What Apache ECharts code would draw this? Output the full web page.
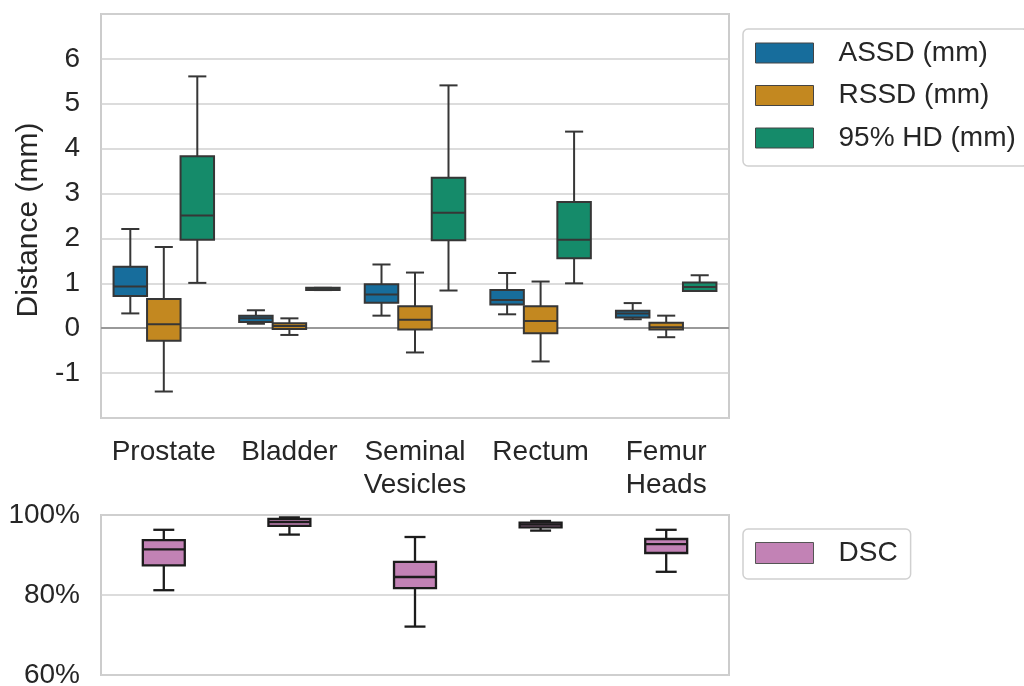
<!DOCTYPE html>
<html><head><meta charset="utf-8">
<script src="https://cdn.jsdelivr.net/npm/echarts@6/dist/echarts.min.js"></script>
<style>html,body{margin:0;padding:0;background:#fff}#chart{width:1024px;height:686px}</style>
</head><body><div id="chart"></div>
<script>
// Categories (x axis)
const categories = ['Prostate', 'Bladder', 'Seminal\nVesicles', 'Rectum', 'Femur\nHeads'];
// Each entry: [lower whisker, Q1, median, Q3, upper whisker]
const assd = [[0.33, 0.72, 0.93, 1.37, 2.21], [0.10, 0.14, 0.22, 0.28, 0.40], [0.28, 0.57, 0.75, 0.98, 1.42], [0.31, 0.53, 0.63, 0.85, 1.23], [0.20, 0.24, 0.33, 0.39, 0.56]];
const rssd = [[-1.41, -0.28, 0.09, 0.65, 1.81], [-0.15, -0.02, 0.05, 0.11, 0.22], [-0.54, -0.03, 0.19, 0.49, 1.24], [-0.74, -0.11, 0.16, 0.49, 1.04], [-0.20, -0.03, 0.02, 0.12, 0.28]];
const hd95 = [[1.01, 1.97, 2.51, 3.83, 5.61], [0.85, 0.85, 0.87, 0.90, 0.90], [0.84, 1.96, 2.57, 3.35, 5.41], [1.00, 1.56, 1.97, 2.81, 4.38], [0.83, 0.83, 0.92, 1.02, 1.18]];
const dsc = [[81.2, 87.4, 91.4, 93.7, 96.3], [95.1, 97.3, 98.2, 99.0, 99.4], [72.1, 81.7, 84.5, 88.3, 94.5], [96.1, 96.9, 97.6, 98.1, 98.5], [85.8, 90.5, 92.7, 94.0, 96.3]];
// Axis ranges: [min, max, interval]
const distanceAxis = [-2, 7, 1];
const dscAxis = [60, 100, 20];
const seriesNames = ['ASSD (mm)', 'RSSD (mm)', '95% HD (mm)', 'DSC'];
const colors = ['#176d9c', '#c38820', '#158b6a', '#c282b5'];

const FONT = "'Liberation Sans', Arial, Helvetica, sans-serif";
const TXT = '#262626';

function toData(arr) { return arr.map((d, i) => [i].concat(d)); }

function boxRenderer(offset, widthFrac, capFrac, edge, lw) {
  return function (params, api) {
    const ci = api.value(0);
    const band = api.size([1, 0])[0];
    const cx = api.coord([ci, api.value(3)])[0] + offset * band;
    const w = widthFrac * band, cw = w * capFrac;
    const p = k => api.coord([ci, api.value(k)])[1];
    const lo = p(1), q1 = p(2), md = p(3), q3 = p(4), hi = p(5);
    const st = { stroke: edge, lineWidth: lw, fill: null };
    return {
      type: 'group', children: [
        { type: 'line', shape: { x1: cx, y1: q3, x2: cx, y2: hi }, style: st },
        { type: 'line', shape: { x1: cx, y1: q1, x2: cx, y2: lo }, style: st },
        { type: 'line', shape: { x1: cx - cw / 2, y1: hi, x2: cx + cw / 2, y2: hi }, style: st },
        { type: 'line', shape: { x1: cx - cw / 2, y1: lo, x2: cx + cw / 2, y2: lo }, style: st },
        { type: 'rect', shape: { x: cx - w / 2, y: q3, width: w, height: q1 - q3 }, style: { fill: api.visual('color'), stroke: edge, lineWidth: lw } },
        { type: 'line', shape: { x1: cx - w / 2, y1: md, x2: cx + w / 2, y2: md }, style: st }
      ]
    };
  };
}

const gridCommon = { show: true, borderColor: '#cccccc', borderWidth: 2, backgroundColor: '#fff', containLabel: false, outerBoundsMode: 'none' };
const splitLine = { show: true, lineStyle: { color: '#d0d0d0', width: 1.5 } };

const chart = echarts.init(document.getElementById('chart'), null, { renderer: 'canvas' });
const option = {
  backgroundColor: '#ffffff',
  animation: false,
  textStyle: { fontFamily: FONT, color: TXT },
  grid: [
    Object.assign({ left: 101, top: 14, width: 628, height: 404 }, gridCommon),
    Object.assign({ left: 101, top: 515, width: 628, height: 160 }, gridCommon)
  ],
  xAxis: [
    { type: 'category', gridIndex: 0, data: categories, axisLine: { show: false }, axisTick: { show: false },
      axisLabel: { fontSize: 28, lineHeight: 33, color: TXT, margin: 18, fontFamily: FONT, interval: 0 }, splitLine: { show: false } },
    { type: 'category', gridIndex: 1, data: categories, axisLine: { show: false }, axisTick: { show: false },
      axisLabel: { show: false }, splitLine: { show: false } }
  ],
  yAxis: [
    { type: 'value', gridIndex: 0, min: distanceAxis[0], max: distanceAxis[1], interval: distanceAxis[2],
      axisLine: { show: false }, axisTick: { show: false }, splitLine: splitLine,
      axisLabel: { fontSize: 28, color: TXT, margin: 21, fontFamily: FONT, showMinLabel: false, showMaxLabel: false },
      name: 'Distance (mm)', nameLocation: 'middle', nameRotate: 90, nameGap: 57, nameMoveOverlap: false,
      nameTextStyle: { fontSize: 30, color: TXT, fontFamily: FONT, padding: [0, 8, 0, 0] } },
    { type: 'value', gridIndex: 1, min: dscAxis[0], max: dscAxis[1], interval: dscAxis[2],
      axisLine: { show: false }, axisTick: { show: false }, splitLine: splitLine,
      axisLabel: { fontSize: 28, color: TXT, margin: 21, fontFamily: FONT, formatter: '{value}%' } }
  ],
  legend: [
    { orient: 'vertical', left: 743, top: 29, padding: [8, 12, 12, 12], itemGap: 10.5, itemWidth: 58, itemHeight: 20,
      borderColor: '#d0d0d0', borderWidth: 1.5, borderRadius: 5, backgroundColor: '#fff',
      textStyle: { fontSize: 28, lineHeight: 32, color: TXT, fontFamily: FONT, padding: [0, 0, 0, 20] },
      data: [0, 1, 2].map(i => ({ name: seriesNames[i], icon: 'rect', itemStyle: { color: colors[i], borderColor: '#444', borderWidth: 1 } })) },
    { orient: 'vertical', left: 743, top: 529, padding: [8, 13, 10, 12], itemWidth: 58, itemHeight: 21,
      borderColor: '#d0d0d0', borderWidth: 1.5, borderRadius: 5, backgroundColor: '#fff',
      textStyle: { fontSize: 28, lineHeight: 32, color: TXT, fontFamily: FONT, padding: [0, 0, 0, 20] },
      data: [{ name: seriesNames[3], icon: 'rect', itemStyle: { color: colors[3], borderColor: '#555', borderWidth: 1 } }] }
  ],
  series: [
    { type: 'custom', name: seriesNames[0], xAxisIndex: 0, yAxisIndex: 0, z: 3, itemStyle: { color: colors[0] },
      encode: { x: 0, y: [1, 2, 3, 4, 5] }, data: toData(assd), renderItem: boxRenderer(-0.2667, 0.2667, 0.54, '#363636', 2),
      markLine: { silent: true, z: 1, symbol: 'none', label: { show: false }, lineStyle: { color: '#999999', width: 2, type: 'solid' }, data: [{ yAxis: 0 }] } },
    { type: 'custom', name: seriesNames[1], xAxisIndex: 0, yAxisIndex: 0, z: 3, itemStyle: { color: colors[1] },
      encode: { x: 0, y: [1, 2, 3, 4, 5] }, data: toData(rssd), renderItem: boxRenderer(0, 0.2667, 0.54, '#363636', 2) },
    { type: 'custom', name: seriesNames[2], xAxisIndex: 0, yAxisIndex: 0, z: 3, itemStyle: { color: colors[2] },
      encode: { x: 0, y: [1, 2, 3, 4, 5] }, data: toData(hd95), renderItem: boxRenderer(0.2667, 0.2667, 0.54, '#363636', 2) },
    { type: 'custom', name: seriesNames[3], xAxisIndex: 1, yAxisIndex: 1, z: 3, itemStyle: { color: colors[3] },
      encode: { x: 0, y: [1, 2, 3, 4, 5] }, data: toData(dsc), renderItem: boxRenderer(0, 0.334, 0.5, '#1c1c1c', 2.3) }
  ]
};
chart.setOption(option);
</script></body></html>
